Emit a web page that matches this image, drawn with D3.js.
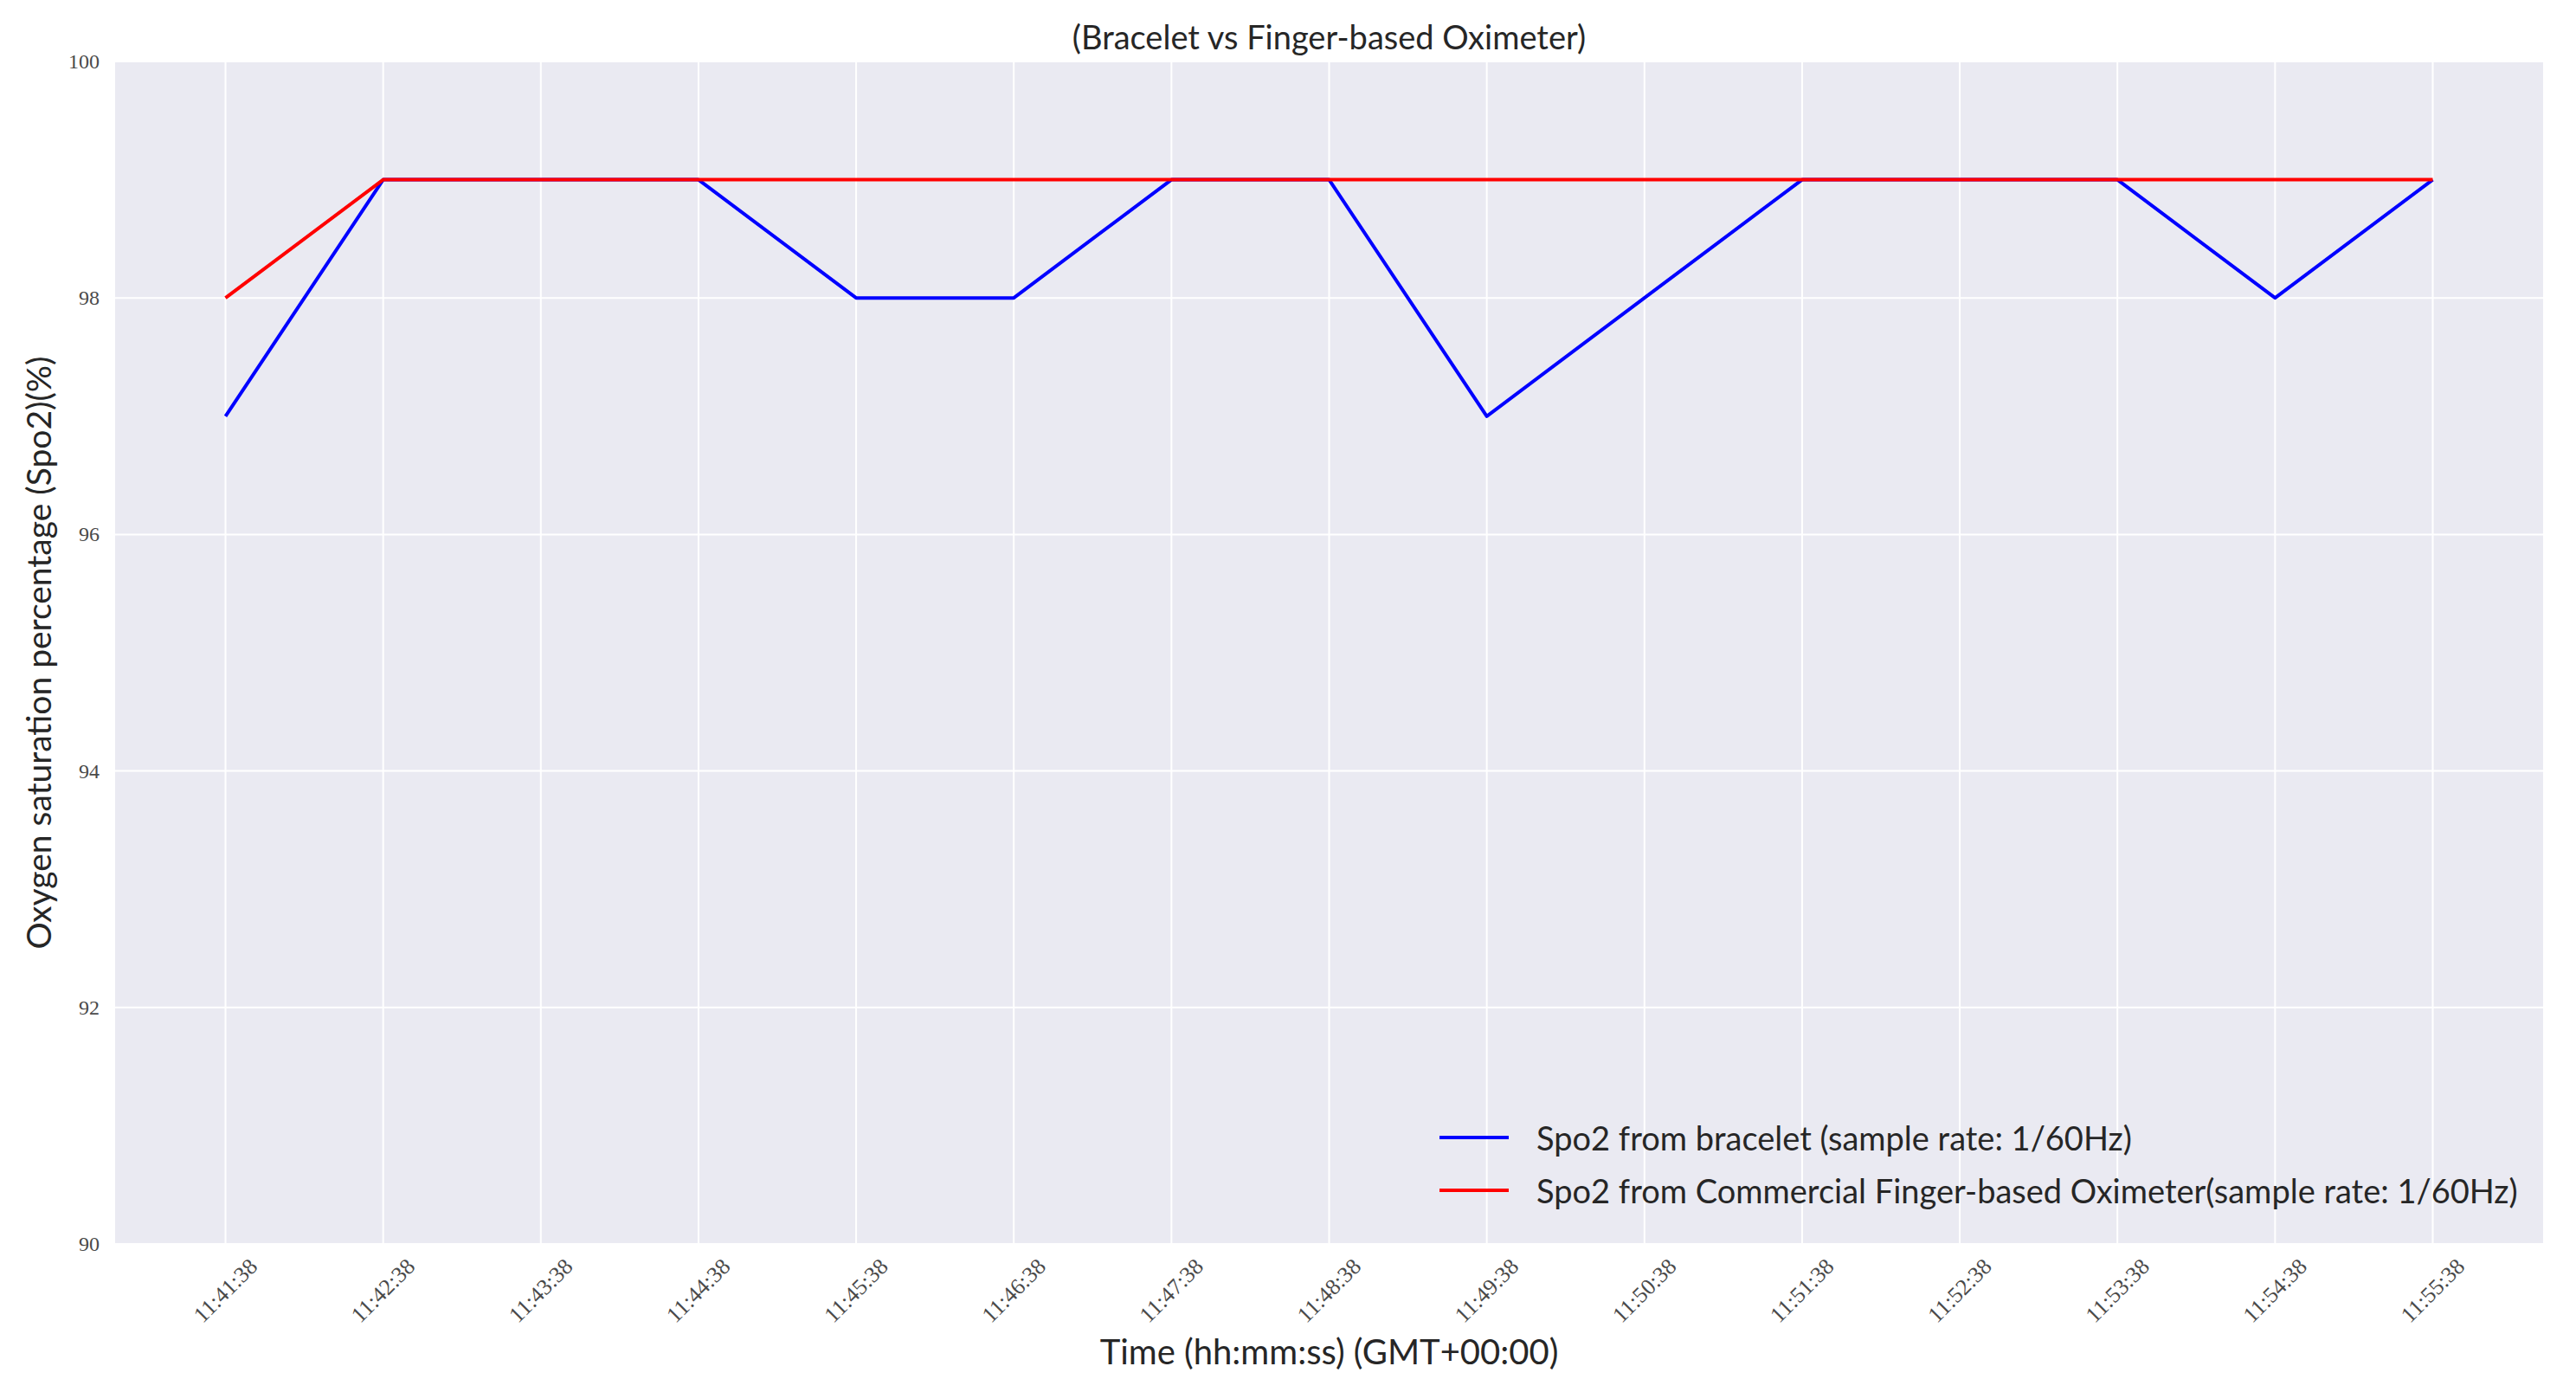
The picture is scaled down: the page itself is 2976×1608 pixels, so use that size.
<!DOCTYPE html>
<html><head><meta charset="utf-8">
<script src="https://cdn.jsdelivr.net/npm/d3@7/dist/d3.min.js"></script>
<style>body{margin:0;background:#fff;}svg{display:block;}</style>
</head><body>
<script>
const times = ["11:41:38","11:42:38","11:43:38","11:44:38","11:45:38","11:46:38","11:47:38","11:48:38","11:49:38","11:50:38","11:51:38","11:52:38","11:53:38","11:54:38","11:55:38"];
const bracelet = [97,99,99,99,98,98,99,99,97,98,99,99,99,98,99];
const finger = [98,99,99,99,99,99,99,99,99,99,99,99,99,99,99];
const yTicks = [90,92,94,96,98,100];
const seriesNames = ["Spo2 from bracelet (sample rate: 1/60Hz)","Spo2 from Commercial Finger-based Oximeter(sample rate: 1/60Hz)"];
const seriesColors = ["#0000ff","#ff0000"];

const W=2976,H=1608;
const m={l:133,r:2938,t:71,b:1437};
const sans="Lato, 'Open Sans', sans-serif";
const serif="'Liberation Serif', 'DejaVu Serif', serif";

const svg=d3.select("body").append("svg").attr("width",W).attr("height",H);
const x=d3.scaleLinear().domain([-0.7,14.7]).range([m.l,m.r]);
const y=d3.scaleLinear().domain([90,100]).range([m.b,m.t]);

svg.append("rect").attr("x",m.l).attr("y",m.t).attr("width",m.r-m.l).attr("height",m.b-m.t).attr("fill","#eaeaf2");

const g=svg.append("g");
g.selectAll("line.gx").data(times).enter().append("line")
 .attr("x1",(d,i)=>x(i)).attr("x2",(d,i)=>x(i)).attr("y1",m.t).attr("y2",m.b)
 .attr("stroke","#fff").attr("stroke-width",2);
g.selectAll("line.gy").data(yTicks).enter().append("line")
 .attr("x1",m.l).attr("x2",m.r).attr("y1",d=>y(d)).attr("y2",d=>y(d))
 .attr("stroke","#fff").attr("stroke-width",2);

// y tick labels
svg.selectAll("text.yt").data(yTicks).enter().append("text")
 .attr("x",m.l-18).attr("y",d=>y(d)).attr("text-anchor","end").attr("dominant-baseline","central")
 .attr("font-family",serif).attr("font-size",24).attr("fill","#4a4a4a").text(d=>d);

// x tick labels
svg.selectAll("text.xt").data(times).enter().append("text")
 .attr("transform",(d,i)=>`translate(${x(i)},${1491}) rotate(-45)`)
 .attr("text-anchor","middle").attr("dominant-baseline","central")
 .attr("font-family",serif).attr("font-size",26).attr("fill","#4a4a4a").text(d=>d);

const line=d3.line().x((d,i)=>x(i)).y(d=>y(d));
[bracelet,finger].forEach((s,k)=>{
  svg.append("path").datum(s).attr("d",line).attr("fill","none")
   .attr("stroke",seriesColors[k]).attr("stroke-width",4).attr("stroke-linejoin","round");
});

// title
svg.append("text").attr("x",(m.l+m.r)/2).attr("y",42).attr("text-anchor","middle").attr("dominant-baseline","central")
 .attr("font-family",sans).attr("font-size",38).attr("fill","#262626").text("(Bracelet vs Finger-based Oximeter)");
// x label
svg.append("text").attr("x",(m.l+m.r)/2).attr("y",1561).attr("text-anchor","middle").attr("dominant-baseline","central")
 .attr("font-family",sans).attr("font-size",40).attr("fill","#262626").text("Time (hh:mm:ss) (GMT+00:00)");
// y label
svg.append("text").attr("transform",`translate(44,${(m.t+m.b)/2}) rotate(-90)`).attr("text-anchor","middle").attr("dominant-baseline","central")
 .attr("font-family",sans).attr("font-size",39).attr("fill","#262626").text("Oxygen saturation percentage (Spo2)(%)");

// legend
const lg=svg.append("g");
seriesNames.forEach((n,k)=>{
  const yy=1314+k*61;
  lg.append("line").attr("x1",1663).attr("x2",1743).attr("y1",yy).attr("y2",yy).attr("stroke",seriesColors[k]).attr("stroke-width",4);
  lg.append("text").attr("x",1775).attr("y",yy).attr("dominant-baseline","central")
   .attr("font-family",sans).attr("font-size",38).attr("fill","#262626").text(n);
});
</script>
</body></html>
